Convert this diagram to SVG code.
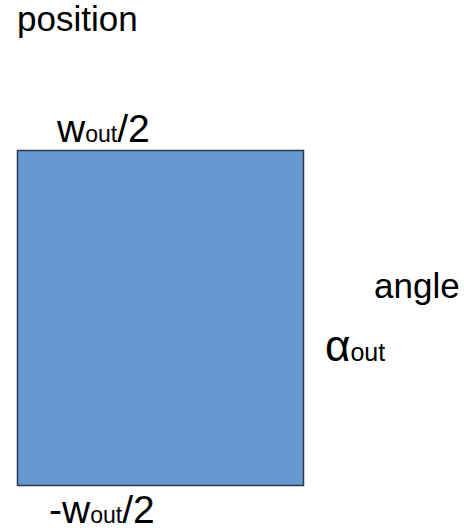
<svg xmlns="http://www.w3.org/2000/svg" width="464" height="531" viewBox="0 0 464 531">
<style>
text{font-family:"Liberation Sans",Arial,sans-serif;fill:#000}
.lbl{font-size:35px}
.big{font-size:39px}
.sub{font-size:23px}
.alpha{font-size:44px}
.asub{font-size:25px}
</style>
<rect width="464" height="531" fill="#fff"/>
<g id="box">
<rect x="17.5" y="150.5" width="286" height="335" fill="#6699cf" stroke="#2b3a4f" stroke-width="1.5"/>
</g>
<g id="labels">
<text class="lbl" x="17" y="31">position</text>
<text x="57" y="142"><tspan class="big">w</tspan><tspan class="sub">out</tspan><tspan class="big">/2</tspan></text>
<text class="lbl" x="374" y="298">angle</text>
<text x="325" y="361"><tspan class="alpha">α</tspan><tspan class="asub">out</tspan></text>
<text x="49" y="523"><tspan class="big">-w</tspan><tspan class="sub">out</tspan><tspan class="big">/2</tspan></text>
</g>
</svg>
